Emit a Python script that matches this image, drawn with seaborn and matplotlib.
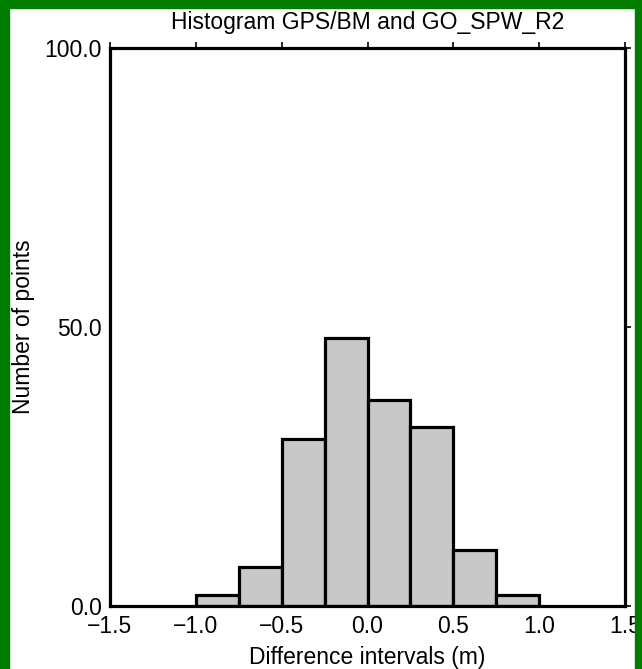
import matplotlib
matplotlib.use("Agg")
import matplotlib.pyplot as plt
import numpy as np
import seaborn as sns
from matplotlib.patches import Rectangle

# histogram of GPS/BM minus geoid differences, counts per 0.25 m interval
bin_edges = [-1.0, -0.75, -0.5, -0.25, 0.0, 0.25, 0.5, 0.75, 1.0]
bin_counts = [2, 7, 30, 48, 37, 32, 10, 2]
x_ticks = [-1.5, -1.0, -0.5, 0.0, 0.5, 1.0, 1.5]
y_ticks = [0.0, 50.0, 100.0]

sns.set_theme(style="white")
plt.rcParams["font.family"] = ["Liberation Sans", "DejaVu Sans"]
plt.rcParams["text.color"] = "black"
plt.rcParams["axes.labelcolor"] = "black"

FS = 16.5
W, H = 642, 669
fig = plt.figure(figsize=(W / 100, H / 100), dpi=100)
fig.patch.set_facecolor("white")

# green frame around the plot (left, top, right)
green = "#007d00"
fig.patches.append(Rectangle((0, 0), 9 / W, 1, transform=fig.transFigure, color=green, zorder=0))
fig.patches.append(Rectangle((0, 1 - 8 / H), 1, 8 / H, transform=fig.transFigure, color=green, zorder=0))
fig.patches.append(Rectangle((1 - 7 / W, 0), 7 / W, 1, transform=fig.transFigure, color=green, zorder=0))

ax = fig.add_axes([110 / W, 63 / H, 515 / W, 558 / H])

centers = 0.5 * (np.array(bin_edges[:-1]) + np.array(bin_edges[1:]))
sns.histplot(
    x=centers, weights=bin_counts, bins=bin_edges, ax=ax,
    color="#c8c8c8", edgecolor="black", linewidth=2.3, alpha=1.0,
)

ax.set_xlim(-1.5, 1.5)
ax.set_ylim(0, 100)
ax.set_xticks(x_ticks)
ax.set_xticklabels([f"{v:.1f}".replace("-", "\u2212") for v in x_ticks])
ax.set_yticks(y_ticks)
ax.set_yticklabels([f"{v:.1f}" for v in y_ticks])

for s in ax.spines.values():
    s.set_linewidth(2.3)
    s.set_color("black")
    s.set_visible(True)

ax.tick_params(axis="both", which="major", direction="out", length=4, width=1.2,
               labelsize=FS, colors="black", pad=2,
               top=True, right=True, labeltop=False, labelright=False)
ax.tick_params(axis="x", pad=2.5)

ax.set_xlabel("Difference intervals (m)", fontsize=FS, color="black")
ax.set_ylabel("Number of points", fontsize=FS, color="black")
ax.xaxis.set_label_coords(0.5, -0.072)
ax.yaxis.set_label_coords(-0.146, 0.5)

fig.text(368 / W, 1 - 29 / H, "Histogram GPS/BM and GO_SPW_R2",
         ha="center", va="baseline", fontsize=FS, color="black")

fig.savefig("out.png", dpi=100, facecolor=fig.get_facecolor())
